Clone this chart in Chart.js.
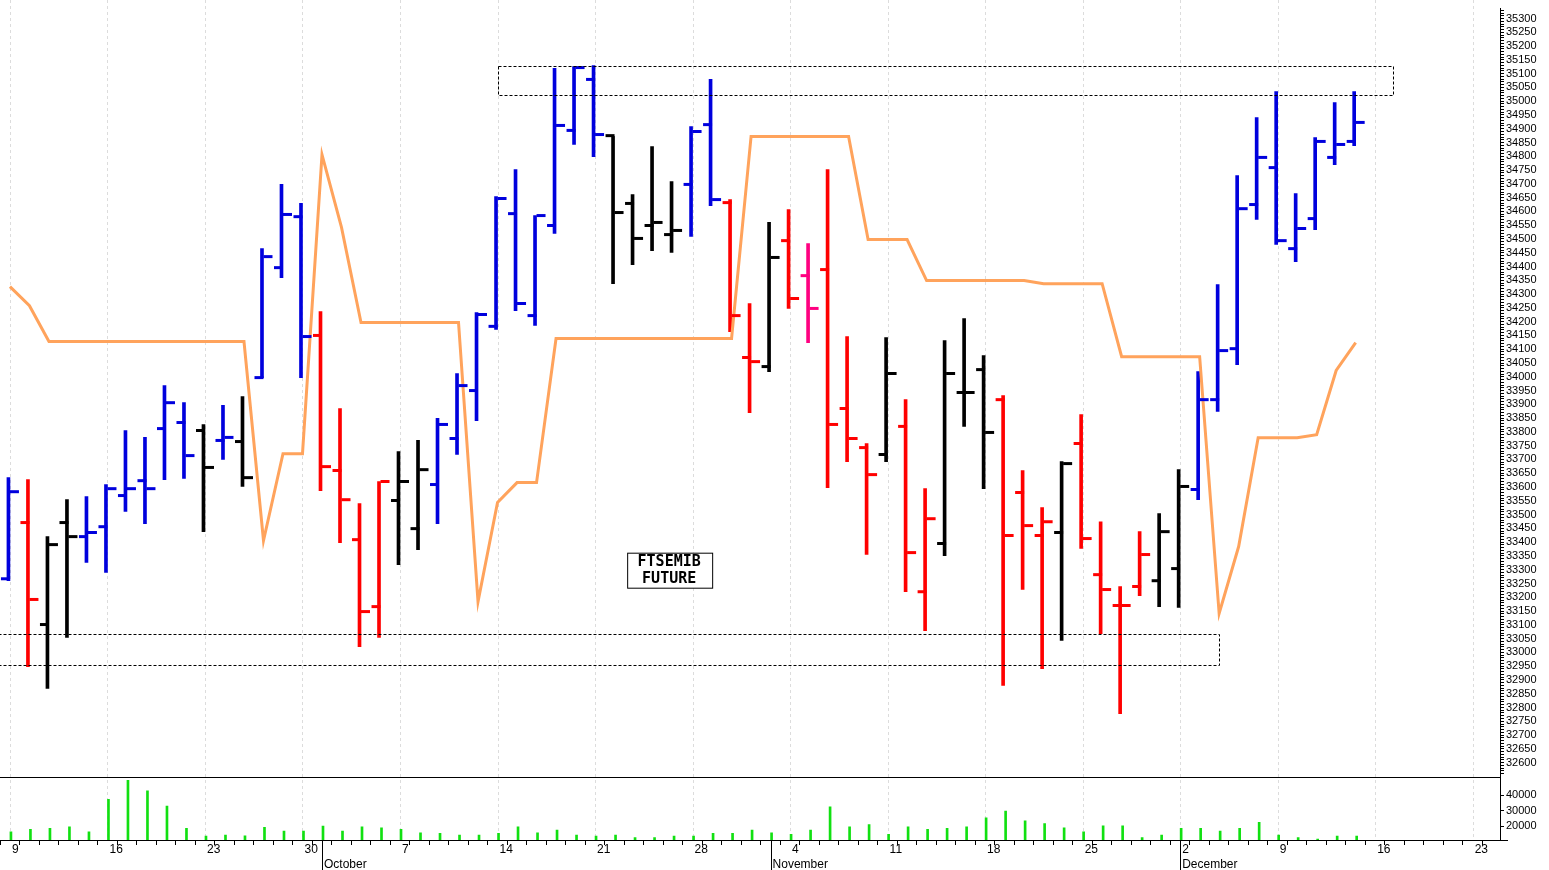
<!DOCTYPE html>
<html><head><meta charset="utf-8">
<script src="https://cdn.jsdelivr.net/npm/chart.js@4.4.1/dist/chart.umd.min.js"></script>
<style>html,body{margin:0;padding:0;background:#fff;overflow:hidden}</style>
</head><body>
<canvas id="c" width="1549" height="870"></canvas>
<script>
// Trading day index 0 = 9 Sep, one bar per weekday
const highs  = [33634,33627,33420,33554,33565,33609,33805,33780,33968,33906,33827,33896,33928,34465,34698,34629,34237,33885,33540,33620,33729,33769,33849,34012,34233,34654,34752,34585,35119,35126,35129,34872,34661,34835,34708,34908,35079,34643,34266,34560,34607,34483,34752,34146,33758,34142,33917,33594,34131,34211,34077,33932,33660,33525,33692,33863,33474,33239,33438,33504,33663,34019,34335,34730,34941,35035,34665,34868,34995,35035];
const lows   = [33260,32948,32869,33054,33326,33290,33511,33467,33627,33631,33438,33700,33602,33997,34360,33997,33587,33398,33021,33054,33318,33373,33467,33718,33841,34172,34240,34186,34520,34843,34799,34338,34407,34458,34451,34509,34621,34164,33870,34019,34248,34124,33598,33692,33355,33692,33220,33079,33351,33820,33594,32880,33228,32941,33043,33377,33068,32778,33206,33166,33163,33554,33874,34044,34571,34480,34418,34534,34770,34839];
const opens  = [33267,33471,33101,33471,33420,33456,33569,33623,33812,33834,33805,33769,33765,33997,34396,34581,34150,33660,33409,33166,33551,33449,33609,33776,33950,34183,34592,34222,34549,34894,35079,34875,34629,34549,34516,34698,34915,34632,34070,34037,34494,34367,34389,33885,33743,33718,33820,33220,33395,33943,34026,33917,33580,33424,33435,33758,33282,33170,33239,33260,33304,33591,33917,34102,34625,34759,34465,34574,34796,34854];
const closes = [33583,33192,33391,33420,33435,33594,33594,33594,33906,33714,33671,33780,33634,34436,34589,34146,33674,33554,33148,33620,33620,33663,33827,33968,34226,34647,34266,34585,34912,35122,34879,34596,34502,34560,34531,34890,34643,34222,34055,34433,34284,34248,33827,33776,33645,34012,33362,33485,34012,33943,33798,33424,33460,33474,33685,33413,33228,33170,33355,33438,33602,33917,34095,34610,34796,34494,34538,34854,34843,34923];
const barColorCodes = "BRKKBBBBBBKBKBBBRRRRKKBBBBBBBBBKKKKBBRRKRPRRRKRRKKKRRRKRRRRKKBBBBBBBBB";
const stopLine = [34327,34258,34128,34128,34128,34128,34128,34128,34128,34128,34128,34128,34128,33406,33721,33721,34806,34542,34197,34197,34197,34197,34197,34197,33184,33544,33616,33616,34139,34139,34139,34139,34139,34139,34139,34139,34139,34139,34872,34872,34872,34872,34872,34872,34498,34498,34498,34349,34349,34349,34349,34349,34349,34338,34338,34338,34338,34073,34073,34073,34073,34073,33141,33384,33779,33779,33779,33790,34023,34124];
const volumes = [16345,17850,18500,19570,16345,37400,49700,42800,32900,18500,13550,14200,13760,19140,16800,16800,20000,16800,19570,18900,17850,15700,15270,14200,14200,15270,19570,15700,17400,14200,13550,14200,12500,12500,13550,13550,15270,15270,17400,15700,14600,17400,32500,19570,21000,14600,19570,17850,18500,19570,25400,29700,23400,21700,18900,16300,20200,20200,12500,14200,18500,18500,16800,18500,22400,14200,12500,11600,13550,13550];
const weekTickIdx  = [0,5,10,15,20,25,30,35,40,45,50,55,60,65,70,75];
const weekTickText = ['9','16','23','30','7','14','21','28','4','11','18','25','2','9','16','23'];
const monthIdx  = [16,39,60];
const monthText = ['October','November','December'];
const zoneHigh = {from:25, to:70.9, top:35129, bottom:35024};
const zoneLow  = {from:-0.6, to:62, top:33065, bottom:32952};
const title = ['FTSEMIB','FUTURE'];

const colorMap = {B:'#0000dd', R:'#ff0000', K:'#000000', P:'#ff0080'};
const colors = barColorCodes.split('').map(c=>colorMap[c]);
const idx = highs.map((_,i)=>i);

const overlay = {
  id:'overlay',
  beforeDatasetsDraw(chart){
    const {ctx, chartArea:a, scales:{x}} = chart;
    ctx.save();
    ctx.strokeStyle='#dcdcdc'; ctx.lineWidth=1; ctx.setLineDash([3,3]);
    weekTickIdx.forEach(i=>{const px=Math.round(x.getPixelForValue(i))+0.5;ctx.beginPath();ctx.moveTo(px,0);ctx.lineTo(px,a.bottom);ctx.stroke();});
    ctx.restore();
  },
  afterDatasetsDraw(chart){
    const {ctx, chartArea:a, scales:{x,y,yv}} = chart;
    ctx.save();
    ctx.lineWidth=3; ctx.setLineDash([]);
    idx.forEach(i=>{
      const px=x.getPixelForValue(i);
      ctx.strokeStyle=colors[i];
      let oy=y.getPixelForValue(opens[i]), cy=y.getPixelForValue(closes[i]);
      ctx.beginPath();ctx.moveTo(px-9,oy);ctx.lineTo(px,oy);ctx.stroke();
      ctx.beginPath();ctx.moveTo(px,cy);ctx.lineTo(px+9,cy);ctx.stroke();
    });
    ctx.lineWidth=1; ctx.strokeStyle='#000'; ctx.setLineDash([3,2]);
    [zoneHigh,zoneLow].forEach(z=>{
      const x1=x.getPixelForValue(z.from), x2=x.getPixelForValue(z.to);
      const y1=y.getPixelForValue(z.top), y2=y.getPixelForValue(z.bottom);
      ctx.strokeRect(Math.round(x1)+0.5,Math.round(y1)+0.5,Math.round(x2-x1),Math.round(y2-y1));
    });
    ctx.setLineDash([]);
    const cx=x.getPixelForValue(33.8), cy=y.getPixelForValue(33300);
    ctx.font='bold 15px "DejaVu Sans Mono"';
    ctx.fillStyle='#fff'; ctx.fillRect(cx-42,cy-17,85,35);
    ctx.strokeRect(cx-42+0.5,cy-17+0.5,85,35);
    ctx.fillStyle='#000'; ctx.textAlign='center'; ctx.textBaseline='middle';
    ctx.fillText(title[0],cx,cy-8); ctx.fillText(title[1],cx,cy+9);
    ctx.strokeStyle='#000'; ctx.lineWidth=1;
    const sep=Math.round(yv.top)+0.5;
    ctx.beginPath();ctx.moveTo(a.left,sep);ctx.lineTo(a.right,sep);ctx.stroke();
    const bot=Math.round(a.bottom)+0.5;
    ctx.beginPath();ctx.moveTo(a.left,bot);ctx.lineTo(a.right+8,bot);ctx.stroke();
    monthIdx.forEach(m=>{const px=Math.round(x.getPixelForValue(m))+0.5;ctx.beginPath();ctx.moveTo(px,a.bottom);ctx.lineTo(px,870);ctx.stroke();});
    ctx.fillStyle='#000'; ctx.font='12px "Liberation Sans"'; ctx.textAlign='left'; ctx.textBaseline='alphabetic';
    monthIdx.forEach((m,k)=>{const px=x.getPixelForValue(m);ctx.fillText(monthText[k],px+2,868);});
    weekTickIdx.forEach((m,k)=>{const px=x.getPixelForValue(m);ctx.fillText(weekTickText[k],px+2,853);});
    ctx.restore();
  }
};

new Chart(document.getElementById('c'),{
  data:{datasets:[
    {type:'bar', data:idx.map(i=>({x:i,y:[lows[i],highs[i]]})), backgroundColor:colors, barThickness:3, yAxisID:'y', order:2},
    {type:'line', data:idx.map(i=>({x:i,y:stopLine[i]})), borderColor:'#ffa35c', borderWidth:3, pointRadius:0, tension:0, yAxisID:'y', order:1},
    {type:'bar', data:idx.map(i=>({x:i,y:volumes[i]})), backgroundColor:'#11e011', barThickness:2, yAxisID:'yv', order:3}
  ]},
  options:{
    responsive:false, animation:false, devicePixelRatio:1,
    layout:{padding:0},
    plugins:{legend:{display:false}, tooltip:{enabled:false}},
    scales:{
      x:{type:'linear', min:-0.51, max:76.4, offset:false,
        afterBuildTicks(s){ s.ticks=[]; for(let i=0;i<=76;i++) s.ticks.push({value:i}); },
        afterFit(s){ s.height=30; },
        ticks:{autoSkip:false, maxRotation:0, callback:()=>'' , font:{size:1}},
        grid:{drawOnChartArea:false, drawTicks:true, tickLength:5, tickColor:'#000'},
        border:{display:false}},
      y:{type:'linear', position:'right', stack:'p', stackWeight:776, min:32549, max:35336, offset:false,
        afterBuildTicks(s){ s.ticks=[]; for(let v=32560; v<=35330; v+=10) s.ticks.push({value:v}); },
        afterFit(s){ s.width=49; },
        ticks:{autoSkip:false, padding:2, font:{family:'Liberation Sans', size:11}, color:'#000',
          callback:v=> (v%50===0 && v>=32600 && v<=35300) ? String(v) : ''},
        grid:{drawOnChartArea:false, tickLength:4, tickColor:'#000'},
        border:{display:true, color:'#000'}},
      yv:{type:'linear', position:'right', stack:'p', stackWeight:64, min:11000, max:52000, offset:false,
        afterBuildTicks(s){ s.ticks=[{value:20000},{value:30000},{value:40000}]; },
        afterFit(s){ s.width=49; },
        ticks:{autoSkip:false, padding:2, font:{family:'Liberation Sans', size:11}, color:'#000', callback:v=>String(v)},
        grid:{drawOnChartArea:false, tickLength:4, tickColor:'#000'},
        border:{display:true, color:'#000'}}
    }
  },
  plugins:[overlay]
});
</script>
</body></html>
